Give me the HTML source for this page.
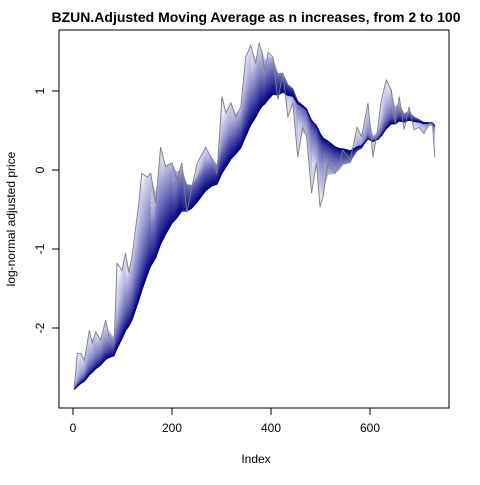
<!DOCTYPE html>
<html><head><meta charset="utf-8"><style>
body{margin:0;background:#fff;font-family:"Liberation Sans",sans-serif}
</style></head><body>
<svg width="480" height="480" xmlns="http://www.w3.org/2000/svg" font-family="Liberation Sans, sans-serif">
<rect width="480" height="480" fill="#fff"/>
<text x="256" y="22" text-anchor="middle" font-weight="bold" font-size="14">BZUN.Adjusted Moving Average as n increases, from 2 to 100</text>
<text x="256" y="463" text-anchor="middle" font-size="12">Index</text>
<text transform="translate(15,219) rotate(-90)" text-anchor="middle" font-size="12">log-normal adjusted price</text>
<g id="series"></g>
<g id="axes"></g>
<rect x="59" y="30" width="390" height="378" fill="none" stroke="#000"/>
</svg>
<script>
const idx=[2,9,16,23,33,39,46,56,66,73,83,89,99,106,113,119,133,139,150,157,167,177,187,200,210,220,230,240,251,268,281,291,301,309,319,329,339,349,359,369,376,382,388,394,404,414,424,434,444,454,464,472,482,492,499,505,515,529,539,545,560,574,583,596,606,616,623,633,643,651,659,669,679,689,699,709,719,726,731];
const price=[-2.78,-2.32,-2.32,-2.41,-2.03,-2.19,-2.05,-2.15,-1.9,-2.11,-2.19,-1.18,-1.27,-1.05,-1.3,-1.1,-0.42,-0.04,-0.09,-0.04,-0.42,0.29,0.04,0.09,-0.13,0.09,-0.54,-0.22,0.09,0.29,0.13,-0.04,0.93,0.72,0.85,0.67,0.8,1.43,1.58,1.35,1.61,1.48,1.23,1.49,1.43,0.89,1.23,0.67,0.85,0.16,0.54,0.42,-0.29,0.09,-0.47,-0.34,0.09,-0.04,0.09,0.25,0.13,0.54,0.42,0.85,0.16,0.54,0.89,1.14,1.01,0.59,0.93,0.51,0.8,0.51,0.54,0.46,0.59,0.59,0.16,0.04];
const xTicks=[0,200,400,600];
const yTicks=[-2,-1,0,1];
const NS='http://www.w3.org/2000/svg';
const X=v=>73+v*0.495, Y=v=>170-v*79;
const g=document.getElementById('series'), ax=document.getElementById('axes');
function pathFor(vals){return vals.map((v,i)=>(i?'L':'M')+X(idx[i]).toFixed(2)+' '+Y(v).toFixed(2)).join('');}
for(let n=2;n<=100;n++){
  const tau=n*0.75;let m=price[0],prev=idx[0];const out=[];
  for(let i=0;i<idx.length;i++){const a=1-Math.exp(-(idx[i]-prev)/tau);m=m+a*(price[i]-m);out.push(m);prev=idx[i];}
  const t=(n-2)/98;
  const c=`rgb(${Math.round(225-225*t)},${Math.round(225-225*t)},${Math.round(245-117*t)})`;
  const p=document.createElementNS(NS,'path');
  p.setAttribute('d',pathFor(out));p.setAttribute('fill','none');p.setAttribute('stroke',c);p.setAttribute('stroke-width','0.7');
  
  
  g.appendChild(p);
}
const raw=document.createElementNS(NS,'path');
raw.setAttribute('d',pathFor(price));raw.setAttribute('fill','none');raw.setAttribute('stroke','#808080');raw.setAttribute('stroke-width','0.9');


g.appendChild(raw);
xTicks.forEach(v=>{
  const l=document.createElementNS(NS,'line');l.setAttribute('x1',X(v));l.setAttribute('x2',X(v));l.setAttribute('y1',408);l.setAttribute('y2',415);l.setAttribute('stroke','#000');
  
  
  ax.appendChild(l);
  const t=document.createElementNS(NS,'text');t.setAttribute('x',X(v));t.setAttribute('y',432);t.setAttribute('text-anchor','middle');t.setAttribute('font-size','12');t.textContent=v;
  
  
  ax.appendChild(t);
});
yTicks.forEach(v=>{
  const l=document.createElementNS(NS,'line');l.setAttribute('x1',52);l.setAttribute('x2',59);l.setAttribute('y1',Y(v));l.setAttribute('y2',Y(v));l.setAttribute('stroke','#000');
  
  
  ax.appendChild(l);
  const t=document.createElementNS(NS,'text');t.setAttribute('transform',`translate(44,${Y(v)}) rotate(-90)`);t.setAttribute('text-anchor','middle');t.setAttribute('font-size','12');t.textContent=v;
  
  
  ax.appendChild(t);
});
</script>
</body></html>
